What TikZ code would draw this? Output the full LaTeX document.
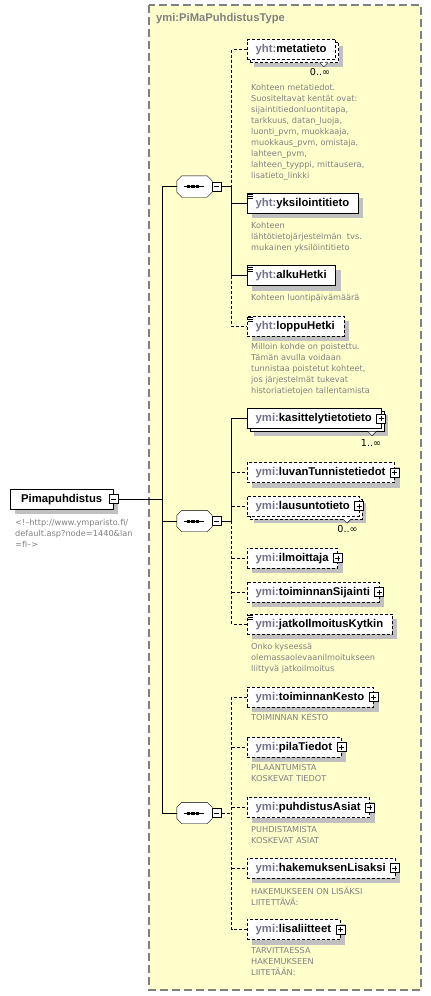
\documentclass[tikz,border=0pt]{standalone}
\usepackage{fontspec}
\setmainfont{DejaVu Sans}
\newfontfamily\labelfont{Liberation Sans}
\usetikzlibrary{shadows,positioning}

\definecolor{ctbg}{RGB}{255,255,204}
\definecolor{ctedge}{RGB}{128,128,128}
\definecolor{shgray}{RGB}{192,192,192}
\definecolor{nsgray}{RGB}{115,115,140}
\definecolor{docgray}{RGB}{128,128,128}

\newcommand{\qn}[2]{\textcolor{nsgray}{#1:}#2}

\pgfdeclarelayer{bg}
\pgfdeclarelayer{shade}
\pgfsetlayers{bg,shade,main}

\tikzset{
  opt/.style={dash pattern=on 3pt off 2pt},
  ctframe/.style={draw=ctedge, fill=ctbg, line width=1.5pt, dash pattern=on 8pt off 4pt},
  cttitle/.style={anchor=west, inner sep=0pt, text=docgray, font=\labelfont\fontsize{11.2}{13}\selectfont\bfseries},
  elem/.style={draw, fill=white, anchor=west, minimum height=20pt, inner xsep=9pt, inner ysep=0pt,
    text height=8pt, text depth=2pt, font=\labelfont\fontsize{11.3}{13}\selectfont\bfseries},
  elemmulti/.style={elem, copy shadow={shadow xshift=3pt, shadow yshift=-3pt}},
  simple/.style={path picture={
    \foreach \dy in {1.5,3.5,5.5}
      \draw[solid, line width=0.8pt] ([shift={(1.5pt,-\dy pt)}]path picture bounding box.north west) -- ++(5,0);
  }},
  expander/.style={draw, solid, fill=white, minimum size=9pt, inner sep=0pt},
  minusbox/.style={expander, path picture={
    \draw[solid] ([xshift=-2.5pt]path picture bounding box.center) -- ([xshift=2.5pt]path picture bounding box.center);
  }},
  plusbox/.style={expander, path picture={
    \draw[solid] ([xshift=-2.5pt]path picture bounding box.center) -- ([xshift=2.5pt]path picture bounding box.center);
    \draw[solid] ([yshift=-2.5pt]path picture bounding box.center) -- ([yshift=2.5pt]path picture bounding box.center);
  }},
  seqbox/.style={minimum width=35pt, minimum height=21pt, inner sep=0pt},
  doc/.style={anchor=north west, inner sep=0pt, align=left, text=docgray, font=\fontsize{8.2}{11}\selectfont},
  mult/.style={inner sep=0pt, font=\fontsize{9.6}{11}\selectfont},
  notch/.style={draw, solid, fill=white}
}

\begin{document}
\begin{tikzpicture}[x=1pt, y=-1pt, line width=0.9pt]
\useasboundingbox (0,0) rectangle (431,996);

% complex type
\begin{pgfonlayer}{bg}
\draw[ctframe] (149,5) rectangle (421,990);
\end{pgfonlayer}
\node[cttitle] (ctname) at (156,19) {ymi:PiMaPuhdistusType};

% root element
\node[elem, inner xsep=11pt] (root) at (10,499) {Pimapuhdistus};
\node[minusbox] (rootx) at (root.east) {};
\node[doc] (rootdoc) at (15,518.7) {<!--http://www.ymparisto.fi/\\default.asp?node=1440\&lan\\=fi-->};

% sequences
\node[seqbox] (seq1) at (194.5,186.5) {};
\node[seqbox] (seq2) at (194.5,521) {};
\node[seqbox] (seq3) at (194.5,813) {};
\foreach \s in {seq1,seq2,seq3} {
  \begin{pgfonlayer}{shade}
  \fill[shgray, shift={(5pt,-5pt)}] ([xshift=5pt]\s.north west) -- ([xshift=-5pt]\s.north east)
    -- ([yshift=-5pt]\s.north east) -- ([yshift=5pt]\s.south east) -- ([xshift=-5pt]\s.south east)
    -- ([xshift=5pt]\s.south west) -- ([yshift=5pt]\s.south west) -- ([yshift=-5pt]\s.north west) -- cycle;
  \end{pgfonlayer}
  \draw[fill=white] ([xshift=5pt]\s.north west) -- ([xshift=-5pt]\s.north east)
    -- ([yshift=-5pt]\s.north east) -- ([yshift=5pt]\s.south east) -- ([xshift=-5pt]\s.south east)
    -- ([xshift=5pt]\s.south west) -- ([yshift=5pt]\s.south west) -- ([yshift=-5pt]\s.north west) -- cycle;
  \draw ([xshift=-11pt]\s.center) -- ([xshift=9pt]\s.center);
  \foreach \dx in {-6,-1.5,3}
    \fill ([xshift=\dx pt]\s.center) +(-1.6,-1.5) rectangle +(1.6,1.5);
}
\node[minusbox, anchor=west] (seq1x) at (seq1.east) {};
\node[minusbox, anchor=west] (seq2x) at (seq2.east) {};
\node[minusbox, anchor=west] (seq3x) at (seq3.east) {};

\coordinate (trunk) at (162,0);
\draw (rootx.east) -- (rootx.east -| trunk);
\draw (seq1.west) -- (seq1.west -| trunk) -- (seq3.west -| trunk) -- (seq3.west);
\draw (seq2.west) -- (seq2.west -| trunk);

% first sequence
\node[elemmulti, opt] (meta) at (246.5,49.5) {\qn{yht}{metatieto}};
\draw[notch] ([shift={(-16pt,-3pt)}]meta.south east) -- ++(4,4) -- ++(4,-4);
\node[mult] (metam) at (320,72) {0..∞};
\node[doc] (metadoc) at (251,84) {Kohteen metatiedot.\\Suositeltavat kentät ovat:\\sijaintitiedonluontitapa,\\tarkkuus, datan\_luoja,\\luonti\_pvm, muokkaaja,\\muokkaus\_pvm, omistaja,\\lahteen\_pvm,\\lahteen\_tyyppi, mittausera,\\lisatieto\_linkki};

\node[elem, simple] (yks) at (246.5,203) {\qn{yht}{yksilointitieto}};
\node[doc] (yksdoc) at (251,221.7) {Kohteen\\lähtötietojärjestelmän~~tvs.\\mukainen yksilöintitieto};

\node[elem, simple] (alku) at (246.5,275.5) {\qn{yht}{alkuHetki}};
\node[doc] (alkudoc) at (251,293.7) {Kohteen luontipäivämäärä};

\node[elem, simple, opt] (loppu) at (246.5,326) {\qn{yht}{loppuHetki}};
\node[doc] (loppudoc) at (251,342.7) {Milloin kohde on poistettu.\\Tämän avulla voidaan\\tunnistaa poistetut kohteet,\\jos järjestelmät tukevat\\historiatietojen tallentamista};

\draw (seq1x.east) -- ++(10,0) coordinate (bus1);
\draw[opt] (meta.west) -| (bus1);
\draw (bus1) |- (alku.west);
\draw (bus1 |- yks.west) -- (yks.west);
\draw[opt] (bus1 |- alku.west) |- (loppu.west);

% second sequence
\node[elemmulti] (kasit) at (246.5,418.5) {\qn{ymi}{kasittelytietotieto}};
\node[plusbox] (kasitx) at (kasit.east) {};
\draw[notch] ([shift={(-13pt,-3pt)}]kasit.south east) -- ++(4,4) -- ++(4,-4);
\node[mult] (kasitm) at (371,443) {1..∞};

\node[elem, opt] (luvan) at (246.5,472.5) {\qn{ymi}{luvanTunnistetiedot}};
\node[plusbox] (luvanx) at (luvan.east) {};

\node[elemmulti, opt] (lausunto) at (246.5,506) {\qn{ymi}{lausuntotieto}};
\node[plusbox] (lausuntox) at (lausunto.east) {};
\draw[notch] ([shift={(-16pt,-3pt)}]lausunto.south east) -- ++(4,4) -- ++(4,-4);
\node[mult] (lausuntom) at (347.5,529) {0..∞};

\node[elem, opt] (ilmo) at (246.5,558) {\qn{ymi}{ilmoittaja}};
\node[plusbox] (ilmox) at (ilmo.east) {};

\node[elem, opt] (sijainti) at (246.5,592) {\qn{ymi}{toiminnanSijainti}};
\node[plusbox] (sijaintix) at (sijainti.east) {};

\node[elem, simple, opt] (jatko) at (246.5,624) {\qn{ymi}{jatkoIlmoitusKytkin}};
\node[doc] (jatkodoc) at (251,643.3) {Onko kyseessä\\olemassaolevaanilmoitukseen\\liittyvä jatkoilmoitus};

\draw (seq2x.east) -- ++(10,0) coordinate (bus2);
\draw (kasit.west) -| (bus2);
\draw[opt] (bus2) |- (jatko.west);
\draw[opt] (bus2 |- luvan.west) -- (luvan.west);
\draw[opt] (bus2 |- lausunto.west) -- (lausunto.west);
\draw[opt] (bus2 |- ilmo.west) -- (ilmo.west);
\draw[opt] (bus2 |- sijainti.west) -- (sijainti.west);

% third sequence
\node[elem, opt] (kesto) at (246.5,697) {\qn{ymi}{toiminnanKesto}};
\node[plusbox] (kestox) at (kesto.east) {};
\node[doc] (kestodoc) at (251,714.3) {TOIMINNAN KESTO};

\node[elem, opt] (pila) at (246.5,747) {\qn{ymi}{pilaTiedot}};
\node[plusbox] (pilax) at (pila.east) {};
\node[doc] (piladoc) at (251,764.3) {PILAANTUMISTA\\KOSKEVAT TIEDOT};

\node[elem, opt] (puhd) at (246.5,807.5) {\qn{ymi}{puhdistusAsiat}};
\node[plusbox] (puhdx) at (puhd.east) {};
\node[doc] (puhddoc) at (251,826) {PUHDISTAMISTA\\KOSKEVAT ASIAT};

\node[elem, opt] (hak) at (246.5,868) {\qn{ymi}{hakemuksenLisaksi}};
\node[plusbox] (hakx) at (hak.east) {};
\node[doc] (hakdoc) at (251,886.7) {HAKEMUKSEEN ON LISÄKSI\\LIITETTÄVÄ:};

\node[elem, opt] (lisa) at (246.5,929.5) {\qn{ymi}{lisaliitteet}};
\node[plusbox] (lisax) at (lisa.east) {};
\node[doc] (lisadoc) at (251,947.7) {TARVITTAESSA\\HAKEMUKSEEN\\LIITETÄÄN:};

\draw[opt] (seq3x.east) -- ++(10,0) coordinate (bus3);
\draw[opt] (kesto.west) -| (bus3) |- (lisa.west);
\draw[opt] (bus3 |- pila.west) -- (pila.west);
\draw[opt] (bus3 |- puhd.west) -- (puhd.west);
\draw[opt] (bus3 |- hak.west) -- (hak.west);

% shadows
\begin{pgfonlayer}{shade}
\foreach \n in {root,yks,alku,loppu,luvan,ilmo,sijainti,jatko,kesto,pila,puhd,hak,lisa}
  \fill[shgray] ([shift={(5pt,-5pt)}]\n.north west) rectangle ([shift={(5pt,-5pt)}]\n.south east);
\foreach \n in {meta,kasit,lausunto}
  \fill[shgray] ([shift={(7pt,-7pt)}]\n.north west) rectangle ([shift={(7pt,-7pt)}]\n.south east);
\end{pgfonlayer}
\end{tikzpicture}
\end{document}
